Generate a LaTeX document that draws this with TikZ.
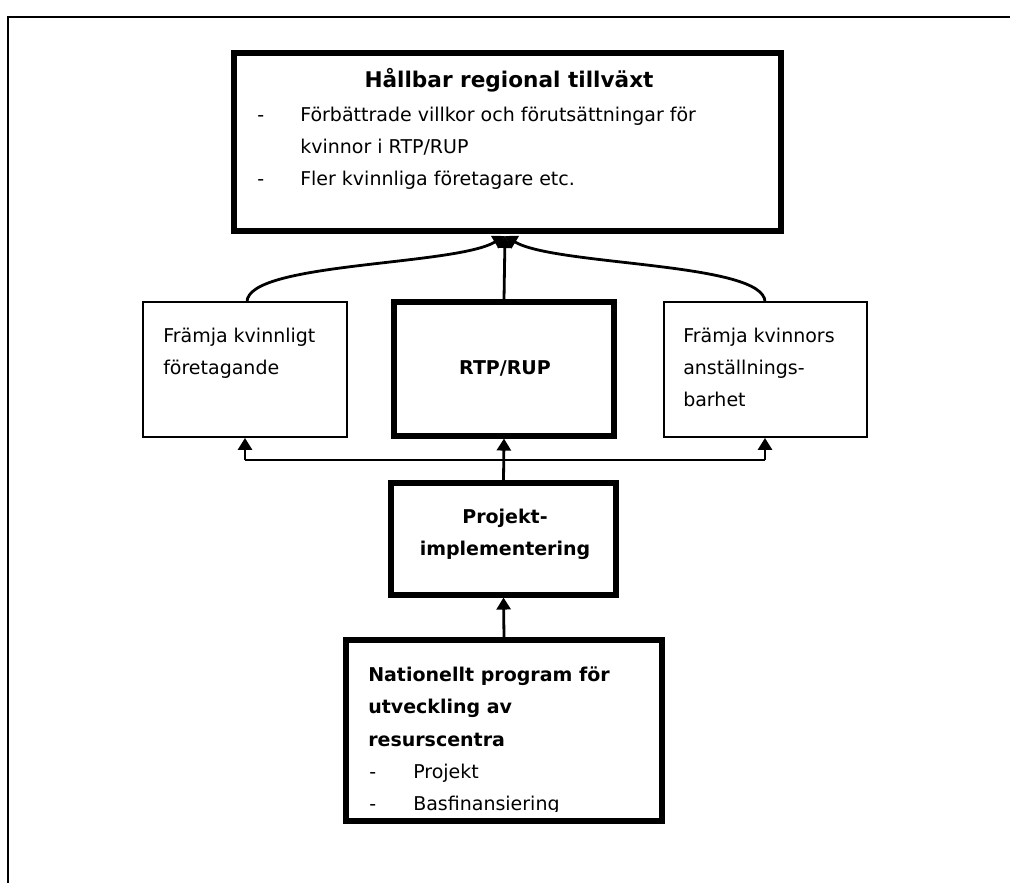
\documentclass[tikz,border=0pt]{standalone}
\usepackage{fontspec}
\setmainfont{DejaVu Sans}
\usetikzlibrary{arrows.meta,fit}
\tikzset{
  thickbox/.style={draw=black,line width=3.8pt,inner sep=0pt,fill=white},
  thinbox/.style={draw=black,line width=1.4pt,inner sep=0pt,fill=white},
  conn/.style={line width=2.1pt,-{Triangle[width=10.5pt,length=9pt]}},
  plain/.style={line width=2pt},
  txt/.style={anchor=base west,inner sep=0pt,font=\fontsize{14.25}{24}\selectfont},
  btxt/.style={anchor=base west,inner sep=0pt,font=\fontsize{14.25}{24}\selectfont\bfseries},
  ctxt/.style={anchor=base,inner sep=0pt,font=\fontsize{14.25}{24}\selectfont\bfseries},
  frame/.style={draw=black,line width=1.8pt}
}
\begin{document}
\begin{tikzpicture}[x=0.75pt,y=-0.75pt]
\useasboundingbox (0,0) rectangle (1010,882);
\clip (0,0) rectangle (1010,882);
\draw[frame] (8,17) rectangle (1040,910);
% boxes
\node[thickbox,fit={(234,53) (781,231)}] (top) {};
\node[thinbox,fit={(143,302) (347,437)}] (left) {};
\node[thickbox,fit={(394,302) (614,436)}] (rtp) {};
\node[thinbox,fit={(664,302) (867,437)}] (right) {};
\node[thickbox,fit={(391,483) (616,595)}] (proj) {};
\node[thickbox,fit={(346,640) (662,821)}] (nat) {};
% texts top
\node[ctxt,font=\fontsize{16.2}{24}\selectfont\bfseries] (t0) at (509,87) {Hållbar regional tillväxt};
\node[txt] (d1) at (257,121) {-};
\node[txt] (t1) at (300,121) {Förbättrade villkor och förutsättningar för};
\node[txt] (t2) at (300,153) {kvinnor i RTP/RUP};
\node[txt] (d2) at (257,185) {-};
\node[txt] (t3) at (300,185) {Fler kvinnliga företagare etc.};
% left
\node[txt] (l1) at (163,342) {Främja kvinnligt};
\node[txt] (l2) at (163,374) {företagande};
% rtp
\node[ctxt] (r1) at (505,374) {RTP/RUP};
% right
\node[txt] (q1) at (683,342) {Främja kvinnors};
\node[txt] (q2) at (683,374) {anställnings-};
\node[txt] (q3) at (683,406) {barhet};
% proj
\node[ctxt] (p1) at (505,523) {Projekt-};
\node[ctxt] (p2) at (505,555) {implementering};
% nat
\node[btxt] (n1) at (368,681) {Nationellt program för};
\node[btxt] (n2) at (368,713) {utveckling av};
\node[btxt] (n3) at (368,746) {resurscentra};
\node[txt] (n4d) at (369,778) {-};
\node[txt] (n4) at (413,778) {Projekt};
\begin{scope}
\clip (346,790) rectangle (662,811);
\node[txt] (n5d) at (369,810) {-};
\node[txt] (n5) at (413,810) {Basfinansiering};
\end{scope}
% connectors
\coordinate (tip) at (505,236);
\coordinate (jl) at (245,460);
\coordinate (jr) at (765,460);
\draw[conn] (247,302) .. controls (247,262) and (455,266) .. (tip);
\draw[conn] (765,302) .. controls (765,262) and (555,266) .. (tip);
\draw[conn] (rtp.north) -- (tip);
\draw[plain] (jl) -- (jr);
\draw[conn] (jl) -- (jl |- left.south);
\draw[conn] (jr) -- (jr |- right.south);
\draw[conn] (proj.north) -- (rtp.south);
\draw[conn] (nat.north) -- (proj.south);
\end{tikzpicture}
\end{document}
